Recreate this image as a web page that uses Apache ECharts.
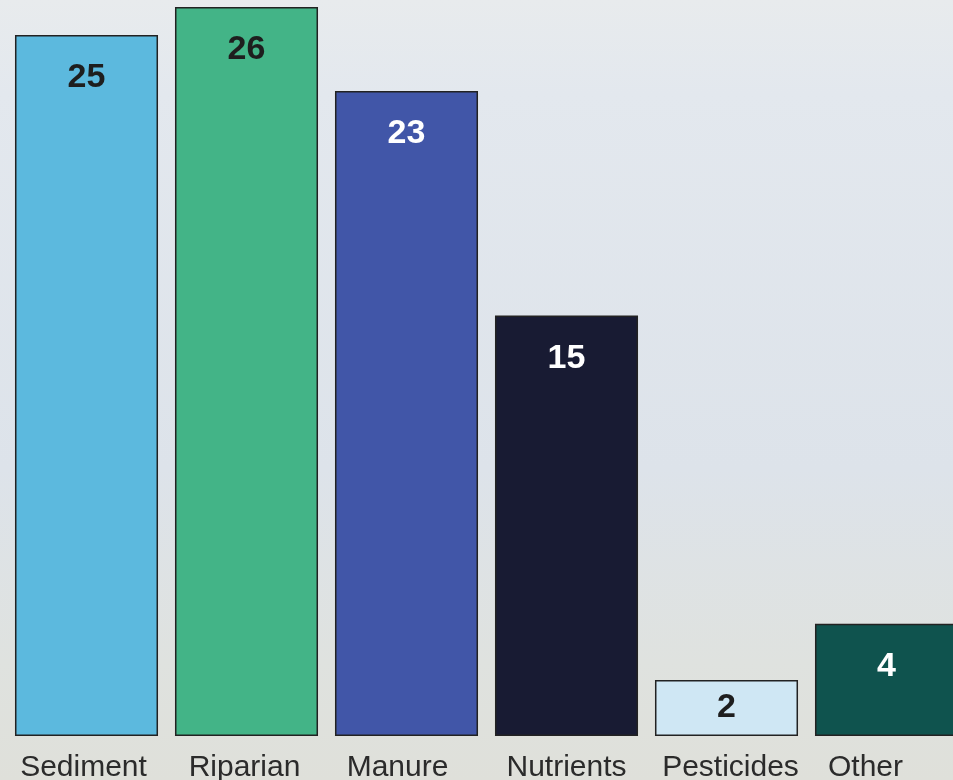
<!DOCTYPE html>
<html>
<head>
<meta charset="utf-8">
<script src="https://cdn.jsdelivr.net/npm/echarts@6/dist/echarts.min.js"></script>
<style>
html,body{margin:0;padding:0;}
#chart{width:953px;height:780px;}
</style>
</head>
<body>
<div id="chart"></div>
<script>
const categories = ['Sediment', 'Riparian', 'Manure', 'Nutrients', 'Pesticides', 'Other'];
const values = [25, 26, 23, 15, 2, 4];
const barColors = ['#5cb9de', '#43b487', '#4156a8', '#181b33', '#cfe7f4', '#0f534e'];
const labelColors = ['#1e1e1e', '#1e1e1e', '#ffffff', '#ffffff', '#1e1e1e', '#ffffff'];
// small horizontal nudges of the category labels (left, right padding)
const labelPads = [[0, 6], [0, 4], [0, 18], [0, 0], [8, 0], [0, 42]];

const chart = echarts.init(document.getElementById('chart'));
chart.setOption({
  animation: false,
  backgroundColor: {
    type: 'linear', x: 0, y: 0, x2: 0, y2: 1,
    colorStops: [
      { offset: 0, color: '#e8ebed' },
      { offset: 0.12, color: '#e3e8ee' },
      { offset: 0.6, color: '#dde3ea' },
      { offset: 0.85, color: '#dfe2df' },
      { offset: 1, color: '#dfe0da' }
    ]
  },
  grid: { left: 6.5, width: 960, top: 7, bottom: 44, containLabel: false, outerBoundsMode: 'none' },
  xAxis: {
    type: 'category',
    data: categories.map((c, i) => ({
      value: c,
      textStyle: { padding: [0, labelPads[i][1], 0, labelPads[i][0]] }
    })),
    axisLine: { show: false },
    axisTick: { show: false },
    axisLabel: {
      interval: 0,
      margin: 17,
      fontFamily: 'Liberation Sans, Arial, sans-serif',
      fontSize: 30,
      color: '#2b2b2b',
      verticalAlign: 'top'
    }
  },
  yAxis: {
    type: 'value',
    min: 0,
    max: 26,
    show: false,
    splitLine: { show: false }
  },
  series: [{
    type: 'bar',
    barCategoryGap: '10.6%',
    data: values.map((v, i) => ({
      value: v,
      itemStyle: { color: barColors[i] },
      label: v < 3
        ? { color: labelColors[i], position: 'inside' }
        : { color: labelColors[i] }
    })),
    itemStyle: { borderColor: '#222222', borderWidth: 1.5 },
    label: {
      show: true,
      position: 'insideTop',
      distance: 26,
      fontFamily: 'Liberation Sans, Arial, sans-serif',
      fontWeight: 'bold',
      fontSize: 34
    }
  }]
});
</script>
</body>
</html>
